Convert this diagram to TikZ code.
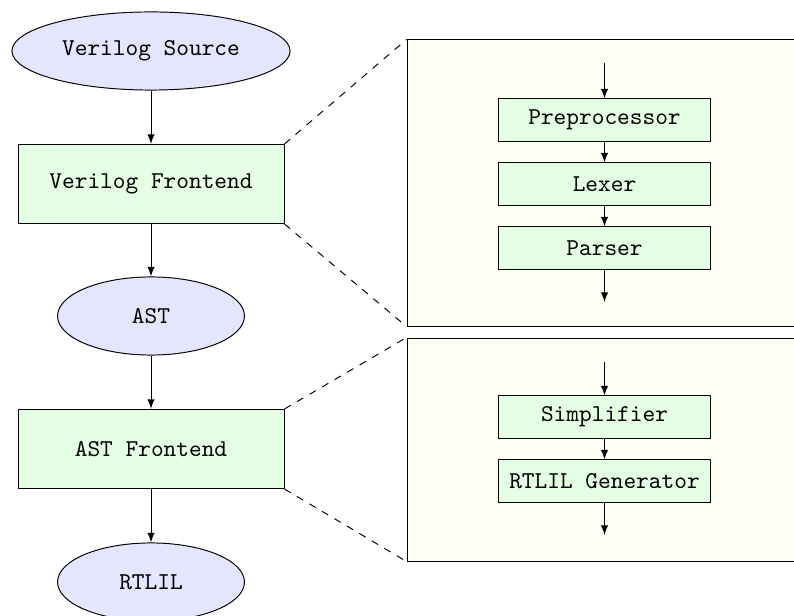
\documentclass[tikz,border=0pt]{standalone}
\usepackage{tikz}
\usetikzlibrary{shapes.geometric, positioning}

\begin{document}
\begin{tikzpicture}[x=0.4135pt, y=-0.4135pt, >=latex,
    data/.style={draw, fill=blue!10, ellipse, inner sep=0pt, minimum height=32.3pt, font=\ttfamily},
    stage/.style={draw, fill=green!10, rectangle, inner sep=0pt, minimum width=110pt, minimum height=32.7pt, font=\ttfamily},
    substage/.style={draw, fill=green!10, rectangle, inner sep=0pt, minimum width=88pt, minimum height=17.4pt, font=\ttfamily},
    zoombox/.style={draw, fill=yellow!5, rectangle, inner sep=0pt, minimum width=166.6pt}]
            \clip (0,0) rectangle (794,616);
            \useasboundingbox (0,0) rectangle (794,616);
            % main flow
            \node[data, minimum width=115pt] (src) at (151,51) {Verilog Source};
            \node[stage] (vfe) at (151,184) {Verilog Frontend};
            \node[data, minimum width=77.3pt] (ast) at (151,316) {AST};
            \node[stage] (afe) at (151,449) {AST Frontend};
            \node[data, minimum width=77.3pt] (rtlil) at (151,582) {RTLIL};
            \draw[->] (src) -- (vfe);
            \draw[->] (vfe) -- (ast);
            \draw[->] (ast) -- (afe);
            \draw[->] (afe) -- (rtlil);
            % verilog frontend detail
            \node[zoombox, minimum height=118.3pt] (zoomA) at (608.5,183) {};
            \node[substage] (prep) at (604.5,120) {Preprocessor};
            \node[substage] (lexer) at (604.5,184) {Lexer};
            \node[substage] (parser) at (604.5,248) {Parser};
            \coordinate (inA) at (604.5,63);
            \coordinate (outA) at (604.5,302);
            \draw[->] (inA) -- (prep);
            \draw[->] (prep) -- (lexer);
            \draw[->] (lexer) -- (parser);
            \draw[->] (parser) -- (outA);
            \draw[dashed] (vfe.north east) -- (zoomA.north west);
            \draw[dashed] (vfe.south east) -- (zoomA.south west);
            % ast frontend detail
            \node[zoombox, minimum height=92.2pt] (zoomB) at (608.5,449.5) {};
            \node[substage] (simp) at (604.5,417) {Simplifier};
            \node[substage] (gen) at (604.5,481) {RTLIL Generator};
            \coordinate (inB) at (604.5,362);
            \coordinate (outB) at (604.5,535);
            \draw[->] (inB) -- (simp);
            \draw[->] (simp) -- (gen);
            \draw[->] (gen) -- (outB);
            \draw[dashed] (afe.north east) -- (zoomB.north west);
            \draw[dashed] (afe.south east) -- (zoomB.south west);
        \end{tikzpicture}
\end{document}
